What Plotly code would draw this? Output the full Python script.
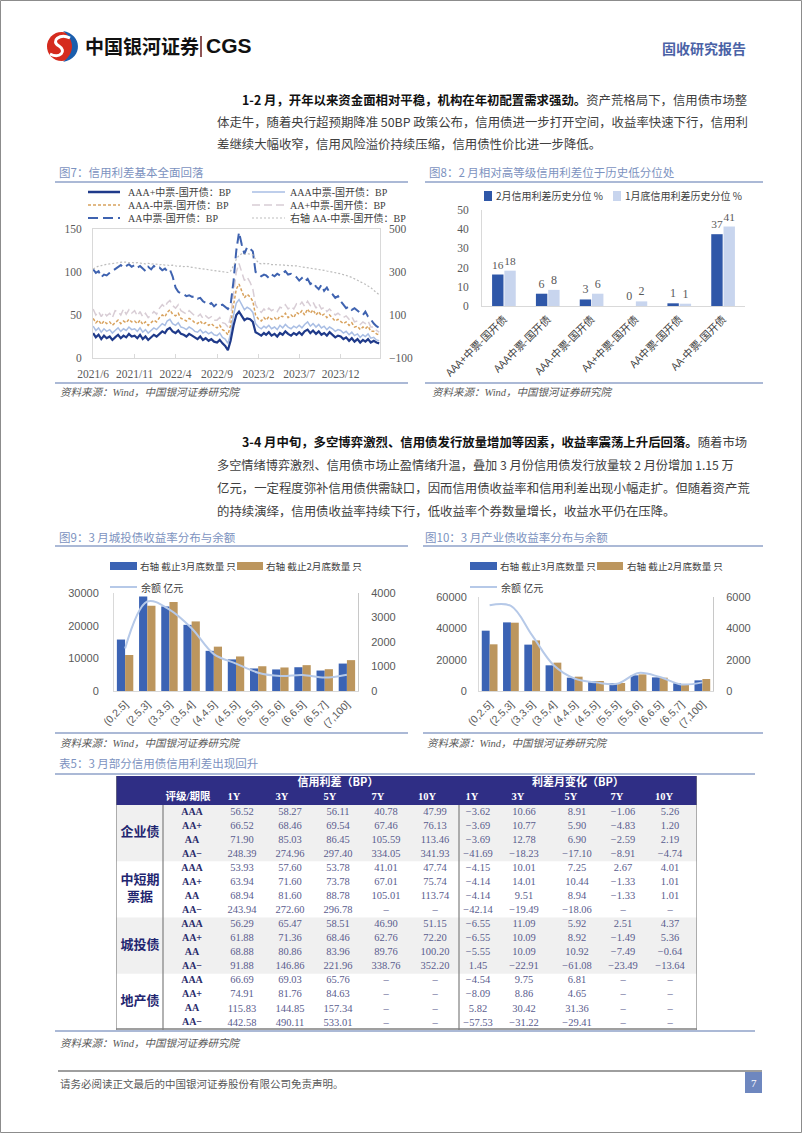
import plotly.graph_objects as go

W, H = 802, 1133


def PX(x):
    return x / W


def PY(y):
    return 1 - y / H


SERIF = "Liberation Serif, Noto Sans CJK SC, serif"
CJK = "Noto Sans CJK SC, sans-serif"
SANS = "Liberation Sans, Noto Sans CJK SC, sans-serif"

# ---------------- 图7 data (BP) ----------------
f7_tick_vals = ["2021-06-01", "2021-11-01", "2022-04-01", "2022-09-01",
                "2023-02-01", "2023-07-01", "2023-12-01"]
f7_tick_text = ["2021/6", "2021/11", "2022/4", "2022/9", "2023/2", "2023/7", "2023/12"]
f7_months = ([(2021, m) for m in range(6, 13)] + [(2022, m) for m in range(1, 13)]
             + [(2023, m) for m in range(1, 13)] + [(2024, m) for m in range(1, 5)])
f7_dates = [f"{y}-{m:02d}-{d:02d}" for (y, m) in f7_months for d in (1, 11, 21)]

f7_aaa_plus = [
    29, 24, 27, 22, 26, 23, 25, 21, 24, 27, 23, 26, 24, 28, 25, 26, 23, 27, 22, 25, 21,
    24, 27, 25, 28, 31, 29, 33, 35, 31, 29, 32, 28, 27, 25, 28, 26, 24, 22, 25, 21, 23,
    20, 22, 19, 18, 21, 17, 14, 9, 20, 38, 50, 54, 49, 44, 46,
    45, 42, 30, 28, 26, 29, 27, 30, 26, 28, 25, 29, 27, 31, 28, 26, 29, 27, 30, 27, 31,
    33, 29, 32, 28, 31, 27, 29, 26, 30, 27, 24, 26, 25, 22, 24,
    20, 23, 19, 22, 18, 21, 19, 22, 18, 20, 18, 17]
f7_aaa = [
    37, 32, 35, 30, 34, 31, 33, 29, 32, 35, 31, 34, 32, 36, 33, 34, 31, 35, 30, 33, 29,
    32, 35, 33, 37, 40, 38, 43, 45, 40, 38, 41, 36, 35, 33, 36, 34, 31, 30, 33, 29, 31,
    28, 30, 27, 26, 29, 24, 22, 17, 28, 50, 64, 68, 62, 56, 59,
    57, 53, 40, 36, 34, 37, 35, 38, 34, 36, 33, 38, 35, 39, 36, 34, 37, 35, 38, 35, 39,
    42, 37, 40, 36, 39, 35, 37, 33, 36, 34, 31, 33, 32, 29, 31,
    27, 30, 26, 28, 24, 27, 25, 28, 23, 24, 21, 20]
f7_aaa_minus = [
    46, 41, 44, 39, 43, 40, 42, 38, 41, 44, 40, 43, 41, 45, 42, 43, 40, 44, 39, 42, 38,
    41, 44, 42, 47, 50, 48, 53, 56, 51, 49, 52, 46, 45, 43, 46, 44, 41, 40, 43, 39, 41,
    38, 40, 37, 35, 38, 33, 31, 27, 38, 62, 80, 86, 78, 70, 74,
    71, 66, 50, 45, 43, 47, 44, 48, 45, 47, 44, 49, 48, 52, 47, 50, 47, 53, 51, 55, 50,
    57, 52, 56, 50, 54, 49, 51, 47, 50, 46, 43, 45, 43, 40, 42,
    38, 41, 36, 37, 33, 36, 34, 37, 31, 31, 28, 27]
f7_aa_plus = [
    57, 50, 54, 48, 53, 49, 52, 47, 55, 54, 50, 57, 51, 56, 52, 55, 49, 54, 48, 52, 47,
    50, 54, 51, 58, 62, 59, 64, 67, 61, 58, 62, 55, 53, 51, 55, 52, 49, 48, 51, 46, 49,
    46, 48, 44, 44, 47, 41, 40, 36, 48, 78, 100, 110, 100, 90, 94,
    88, 80, 62, 56, 53, 57, 54, 58, 55, 57, 54, 59, 58, 62, 57, 60, 57, 63, 61, 65, 60,
    66, 61, 65, 58, 63, 57, 59, 54, 57, 53, 50, 52, 50, 47, 49,
    45, 48, 42, 43, 39, 42, 40, 43, 36, 36, 32, 30]
f7_aa = [
    103, 99, 101, 94, 97, 96, 99, 101, 104, 106, 108, 105, 107, 109, 106, 108, 105, 107, 104, 101, 106,
    103, 107, 104, 105, 102, 104, 101, 103, 95, 82, 77, 75, 74, 72, 73, 71, 72, 69, 70, 66, 64,
    62, 64, 60, 63, 61, 62, 60, 57, 62, 90, 125, 146, 132, 121, 129,
    127, 124, 100, 98, 95, 97, 96, 93, 97, 95, 98, 96, 99, 101, 97, 98, 96, 94, 90, 93, 89,
    92, 86, 88, 83, 80, 85, 78, 82, 76, 74, 70, 72, 66, 62, 58,
    60, 56, 58, 55, 52, 50, 54, 48, 45, 40, 37, 35]
f7_aa_minus_right = [
    315, 322, 328, 330, 334, 336, 338, 340, 342, 345, 344, 347, 346, 343, 345, 342, 344, 341, 340, 338, 341,
    337, 339, 336, 334, 336, 332, 333, 330, 332, 328, 326, 329, 325, 327, 323, 322, 320, 318, 316, 314, 312,
    310, 308, 305, 303, 301, 302, 300, 298, 305, 330, 360, 378, 385, 382, 386,
    383, 380, 360, 342, 338, 340, 337, 339, 335, 336, 334, 333, 334, 331, 332, 330, 328, 329, 326, 324, 325,
    322, 320, 318, 316, 314, 312, 308, 305, 303, 300, 297, 295, 292, 288, 285,
    280, 275, 270, 262, 255, 250, 243, 235, 228, 215, 205, 195]
f7_names = ["AAA+中票-国开债：BP", "AAA中票-国开债：BP", "AAA-中票-国开债：BP",
            "AA+中票-国开债：BP", "AA中票-国开债：BP", "右轴 AA-中票-国开债：BP"]

# ---------------- 图8 data (%) ----------------
f8_cats = ["AAA+中票-国开债", "AAA中票-国开债", "AAA-中票-国开债",
           "AA+中票-国开债", "AA中票-国开债", "AA-中票-国开债"]
f8_feb = [16.4, 6.4, 3.4, 0.0, 1.4, 37.4]
f8_jan = [18.4, 8.4, 6.4, 2.4, 1.2, 41.4]
f8_names = ["2月信用利差历史分位 %", "1月底信用利差历史分位 %"]

# ---------------- 图9 / 图10 data ----------------
yield_cats = ["(0,2.5]", "(2.5,3]", "(3,3.5]", "(3.5,4]", "(4,4.5]", "(4.5,5]",
              "(5,5.5]", "(5.5,6]", "(6,6.5]", "(6.5,7]", "(7,100]"]
f9_mar_count = [2100, 3860, 3450, 2700, 1640, 1290, 920, 880, 970, 835, 1120]
f9_feb_count = [1470, 3480, 3630, 2840, 1810, 1410, 1010, 960, 1055, 890, 1260]
f9_balance = [13000, 27400, 24900, 19200, 11300, 8400, 5600, 4600, 4900, 4100, 5000]
f10_mar_count = [3850, 4380, 2960, 1640, 850, 620, 510, 1000, 870, 490, 680]
f10_feb_count = [2980, 4360, 3230, 1810, 915, 640, 510, 1060, 850, 450, 765]
f10_balance = [54700, 54300, 35500, 16600, 7900, 5500, 4600, 11500, 8900, 4200, 5500]
bar_names = ["右轴 截止3月底数量 只", "右轴 截止2月底数量 只", "余额 亿元"]

# ---------------- 表5 data ----------------
tbl_groups = ["企业债", "中短期<br>票据", "城投债", "地产债"]
tbl_ratings = ["AAA", "AA+", "AA", "AA−"]
tbl_terms = ["1Y", "3Y", "5Y", "7Y", "10Y"]
ent_spread = [[56.52, 58.27, 56.11, 40.78, 47.99], [66.52, 68.46, 69.54, 67.46, 76.13],
              [71.90, 85.03, 86.45, 105.59, 113.46], [248.39, 274.96, 297.40, 334.05, 341.93]]
mtn_spread = [[53.93, 57.60, 53.78, 41.01, 47.74], [63.94, 71.60, 73.78, 67.01, 75.74],
              [68.94, 81.60, 88.78, 105.01, 113.74], [243.94, 272.60, 296.78, None, None]]
cty_spread = [[56.29, 65.47, 58.51, 46.90, 51.15], [61.88, 71.36, 68.46, 62.76, 72.20],
              [68.88, 80.86, 83.96, 89.76, 100.20], [91.88, 146.86, 221.96, 338.76, 352.20]]
re_spread = [[66.69, 69.03, 65.76, None, None], [74.91, 81.76, 84.63, None, None],
             [115.83, 144.85, 157.34, None, None], [442.58, 490.11, 533.01, None, None]]
ent_change = [[-3.62, 10.66, 8.91, -1.06, 5.26], [-3.69, 10.77, 5.90, -4.83, 1.20],
              [-3.69, 12.78, 6.90, -2.59, 2.19], [-41.69, -18.23, -17.10, -8.91, -4.74]]
mtn_change = [[-4.15, 10.01, 7.25, 2.67, 4.01], [-4.14, 14.01, 10.44, -1.33, 1.01],
              [-4.14, 9.51, 8.94, -1.33, 1.01], [-42.14, -19.49, -18.06, None, None]]
cty_change = [[-6.55, 11.09, 5.92, 2.51, 4.37], [-6.55, 10.09, 8.92, -1.49, 5.36],
              [-5.55, 10.09, 10.92, -7.49, -0.64], [1.45, -22.91, -61.08, -23.49, -13.64]]
re_change = [[-4.54, 9.75, 6.81, None, None], [-8.09, 8.86, 4.65, None, None],
             [5.82, 30.42, 31.36, None, None], [-57.53, -31.22, -29.41, None, None]]

# ---------------- colours ----------------
C_NAVY, C_LBLUE, C_ORANGE, C_PINK, C_AA, C_GRAY = "#1F3A8A", "#A9BEE4", "#D8A25E", "#D8CDD5", "#3F63B0", "#BDBDBD"
C_DARKBAR, C_LIGHTBAR = "#2F57A8", "#C8D5EE"
C_BLUEBAR, C_TANBAR, C_BALLINE = "#3B63B4", "#BC965E", "#B6C9E8"
C_CAPTION, C_RULE = "#7C92C0", "#8FA2C9"
AX_LINE = "#D9D9D9"
TICK_COL = "#595959"

fig = go.Figure()

# ---------------- 图7 traces ----------------
f7_specs = [
    (f7_aa_plus, 3, dict(color=C_PINK, width=1.5, dash="8px,4px"), "y"),
    (f7_aaa_minus, 2, dict(color=C_ORANGE, width=1.5, dash="3px,2px"), "y"),
    (f7_aaa, 1, dict(color=C_LBLUE, width=1.5), "y"),
    (f7_aa, 4, dict(color=C_AA, width=2, dash="10px,5px"), "y"),
    (f7_aaa_plus, 0, dict(color=C_NAVY, width=2.2), "y"),
    (f7_aa_minus_right, 5, dict(color=C_GRAY, width=1.2, dash="2px,2px"), "y2"),
]
for vals, ni, ln, ya in f7_specs:
    fig.add_trace(go.Scatter(x=f7_dates, y=vals, mode="lines", name=f7_names[ni], line=ln,
                             xaxis="x", yaxis=ya, showlegend=False))

# ---------------- 图8 traces ----------------
fig.add_trace(go.Bar(x=f8_cats, y=f8_feb, name=f8_names[0], marker_color=C_DARKBAR, width=0.26, offset=-0.27,
                     texttemplate="%{y:.0f}", textposition="outside", cliponaxis=False,
                     textfont=dict(family=SERIF, size=12, color=TICK_COL),
                     xaxis="x2", yaxis="y3", showlegend=False))
fig.add_trace(go.Bar(x=f8_cats, y=f8_jan, name=f8_names[1], marker_color=C_LIGHTBAR, width=0.26, offset=0.01,
                     texttemplate="%{y:.0f}", textposition="outside", cliponaxis=False,
                     textfont=dict(family=SERIF, size=12, color=TICK_COL),
                     xaxis="x2", yaxis="y3", showlegend=False))

# ---------------- 图9 / 图10 traces ----------------
for (mar, feb, bal, xa, yb, yl) in [(f9_mar_count, f9_feb_count, f9_balance, "x3", "y4", "y5"),
                                    (f10_mar_count, f10_feb_count, f10_balance, "x4", "y6", "y7")]:
    fig.add_trace(go.Bar(x=yield_cats, y=mar, name=bar_names[0], marker_color=C_BLUEBAR, width=0.37, offset=-0.37,
                         xaxis=xa, yaxis=yb, showlegend=False))
    fig.add_trace(go.Bar(x=yield_cats, y=feb, name=bar_names[1], marker_color=C_TANBAR, width=0.37, offset=0.0,
                         xaxis=xa, yaxis=yb, showlegend=False))
    fig.add_trace(go.Scatter(x=yield_cats, y=bal, name=bar_names[2], mode="lines",
                             line=dict(color=C_BALLINE, width=2, shape="spline", smoothing=1),
                             xaxis=xa, yaxis=yl, showlegend=False))

# ---------------- 表5 (text cells on a hidden pixel-scaled axis) ----------------
TBL_L, TBL_R, TBL_T, TBL_HDR_B, TBL_B = 116, 697, 776, 805, 1030
ROW_H = (TBL_B - TBL_HDR_B) / 16
GROUP_X, RATING_X = 140, 192
SPREAD_X = [242, 290, 338, 386, 435]
CHANGE_X = [478, 524, 577, 623, 670]
SPLIT_X = [163, 459]


def fmt(v):
    if v is None:
        return "–"
    return f"−{abs(v):.2f}" if v < 0 else f"{v:.2f}"


all_spread = ent_spread + mtn_spread + cty_spread + re_spread
all_change = ent_change + mtn_change + cty_change + re_change
nx, ny, nt = [], [], []
rx, ry, rt = [], [], []
for i in range(16):
    yc = TBL_HDR_B + (i + 0.5) * ROW_H
    rx.append(RATING_X)
    ry.append(yc)
    rt.append("<b>" + tbl_ratings[i % 4] + "</b>")
    for j in range(5):
        nx += [SPREAD_X[j], CHANGE_X[j]]
        ny += [yc, yc]
        nt += [fmt(all_spread[i][j]), fmt(all_change[i][j])]
fig.add_trace(go.Scatter(x=nx, y=ny, text=nt, mode="text", textposition="middle center",
                         textfont=dict(family=SERIF, size=10.5, color="#5A5C8E"),
                         xaxis="x5", yaxis="y8", showlegend=False, cliponaxis=False, hoverinfo="skip"))
fig.add_trace(go.Scatter(x=rx, y=ry, text=rt, mode="text", textposition="middle center",
                         textfont=dict(family=SERIF, size=10, color="#2A2C6B"),
                         xaxis="x5", yaxis="y8", showlegend=False, cliponaxis=False, hoverinfo="skip"))
gx = [GROUP_X] * 4
gy = [TBL_HDR_B + (4 * g + 2) * ROW_H for g in range(4)]
fig.add_trace(go.Scatter(x=gx, y=gy, text=["<b>" + g + "</b>" for g in tbl_groups], mode="text",
                         textposition="middle center", textfont=dict(family=CJK, size=13, color="#1F2670"),
                         xaxis="x5", yaxis="y8", showlegend=False, cliponaxis=False, hoverinfo="skip"))
hx = [188] + [x - 8 for x in SPREAD_X] + [x - 6 for x in CHANGE_X]
hy = [797] * 11
ht = ["<b>评级/期限</b>"] + ["<b>" + t + "</b>" for t in tbl_terms] * 2
fig.add_trace(go.Scatter(x=hx, y=hy, text=ht, mode="text", textposition="middle center",
                         textfont=dict(family=SERIF, size=10.5, color="white"),
                         xaxis="x5", yaxis="y8", showlegend=False, cliponaxis=False, hoverinfo="skip"))
fig.add_trace(go.Scatter(x=[338, 578], y=[783, 783], text=["<b>信用利差（BP）</b>", "<b>利差月变化（BP）</b>"],
                         mode="text", textposition="middle center",
                         textfont=dict(family=CJK, size=11, color="white"),
                         xaxis="x5", yaxis="y8", showlegend=False, cliponaxis=False, hoverinfo="skip"))

# ---------------- shapes & annotations ----------------
shapes = []
anns = []


def L(x0, y0, x1, y1, color, width, dash="solid", ref=None):
    if ref:
        shapes.append(dict(type="line", xref=ref[0], yref=ref[1], x0=x0, y0=y0, x1=x1, y1=y1,
                           line=dict(color=color, width=width, dash=dash)))
    else:
        shapes.append(dict(type="line", xref="paper", yref="paper", x0=PX(x0), y0=PY(y0), x1=PX(x1), y1=PY(y1),
                           line=dict(color=color, width=width, dash=dash)))


def R(x0, y0, x1, y1, fill, ref=None, layer="above", line_color=None):
    d = dict(type="rect", fillcolor=fill, layer=layer, line=dict(width=1 if line_color else 0, color=line_color or fill))
    if ref:
        d.update(xref=ref[0], yref=ref[1], x0=x0, y0=y0, x1=x1, y1=y1)
    else:
        d.update(xref="paper", yref="paper", x0=PX(x0), y0=PY(y0), x1=PX(x1), y1=PY(y1))
    shapes.append(d)


def T(x, y, text, size, color="#404040", family=CJK, xanchor="left", yanchor="middle"):
    anns.append(dict(x=PX(x), y=PY(y), xref="paper", yref="paper", text=text, showarrow=False,
                     xanchor=xanchor, yanchor=yanchor, font=dict(size=size, color=color, family=family)))


# page frame
R(0.5, 0.5, 801.5, 1132.5, "rgba(0,0,0,0)", line_color="#8C8C8C")

# logo
shapes.append(dict(type="circle", xref="paper", yref="paper", x0=PX(47), x1=PX(76), y0=PY(61), y1=PY(32),
                   fillcolor="#D52B1E", line=dict(width=0)))


def pth(pts):
    return " ".join(f"{c}{PX(x):.5f},{PY(y):.5f}" if c in "ML" else
                    f"{c}{PX(x):.5f},{PY(y):.5f} {PX(x2):.5f},{PY(y2):.5f} {PX(x3):.5f},{PY(y3):.5f}"
                    for (c, x, y, x2, y2, x3, y3) in pts) + " Z"


shapes.append(dict(type="path", xref="paper", yref="paper", fillcolor="#1B5EAD", line=dict(width=0),
                   path=pth([("M", 63, 31, 0, 0, 0, 0), ("C", 82, 34, 84, 58, 63, 62),
                             ("C", 75, 53, 75, 40, 63, 31)])))
shapes.append(dict(type="path", xref="paper", yref="paper", line=dict(color="white", width=3),
                   path=f"M{PX(70):.5f},{PY(38):.5f} C{PX(60):.5f},{PY(33):.5f} {PX(50):.5f},{PY(41):.5f} {PX(59):.5f},{PY(46):.5f} "
                        f"C{PX(67):.5f},{PY(51):.5f} {PX(60):.5f},{PY(59):.5f} {PX(50):.5f},{PY(54):.5f}"))
T(83, 46, "<b>中国银河证券</b>", 19, "#111111", CJK)
L(201, 36, 201, 57, "#6B1C1C", 1.5)
T(204, 46, "<b>CGS</b>", 21, "#111111", "Liberation Sans, sans-serif")
T(748, 48, "<b>固收研究报告</b>", 14, "#4A62A6", CJK, xanchor="right")

# body text
BODY, BOLDC = "#404040", "#111111"
T(240, 100, f"<span style='color:{BOLDC}'><b>1-2 月，开年以来资金面相对平稳，机构在年初配置需求强劲。</b></span>资产荒格局下，信用债市场整", 12.4, BODY)
T(215, 122, "体走牛，随着央行超预期降准 50BP 政策公布，信用债进一步打开空间，收益率快速下行，信用利", 12.4, BODY)
T(215, 144, "差继续大幅收窄，信用风险溢价持续压缩，信用债性价比进一步降低。", 12.4, BODY)
T(240, 442, f"<span style='color:{BOLDC}'><b>3-4 月中旬，多空博弈激烈、信用债发行放量增加等因素，收益率震荡上升后回落。</b></span>随着市场", 12.4, BODY)
T(215, 465, "多空情绪博弈激烈、信用债市场止盈情绪升温，叠加 3 月份信用债发行放量较 2 月份增加 1.15 万", 12.2, BODY)
T(215, 488, "亿元，一定程度弥补信用债供需缺口，因而信用债收益率和信用利差出现小幅走扩。但随着资产荒", 12.4, BODY)
T(215, 511, "的持续演绎，信用债收益率持续下行，低收益率个券数量增长，收益水平仍在压降。", 12.4, BODY)

# captions, rules, sources
T(57, 172, "图7：信用利差基本全面回落", 11.5, C_CAPTION)
T(427, 172, "图8：2 月相对高等级信用利差位于历史低分位处", 11.5, C_CAPTION)
T(57, 537, "图9：3 月城投债收益率分布与余额", 11.5, C_CAPTION)
T(423, 537, "图10：3 月产业债收益率分布与余额", 11.5, C_CAPTION)
T(57, 763, "表5：3 月部分信用债信用利差出现回升", 11.5, C_CAPTION)
for (x0, x1, y) in [(55, 408, 182), (425, 763, 182), (55, 408, 383), (425, 763, 383),
                    (55, 408, 546), (423, 763, 546), (55, 408, 733), (423, 763, 733),
                    (55, 755, 774), (55, 755, 1031)]:
    L(x0, y, x1, y, C_RULE, 1.5)
SRC = "<i>资料来源：Wind，中国银河证券研究院</i>"
for (x, y) in [(58, 392), (430, 392), (58, 743), (425, 743), (58, 1043)]:
    T(x, y, SRC, 10.5, "#595959", SERIF)

# 图7 legend
leg7 = [(88, 120, 126, 192, dict(color=C_NAVY, width=2.5), 0),
        (252, 285, 288, 192, dict(color=C_LBLUE, width=1.5), 1),
        (88, 120, 126, 205, dict(color=C_ORANGE, width=1.5, dash="3px,2px"), 2),
        (252, 285, 288, 205, dict(color=C_PINK, width=1.5, dash="8px,4px"), 3),
        (88, 120, 126, 218, dict(color=C_AA, width=2, dash="10px,5px"), 4),
        (252, 285, 288, 218, dict(color=C_GRAY, width=1.2, dash="2px,2px"), 5)]
for (x0, x1, tx, y, ln, ni) in leg7:
    shapes.append(dict(type="line", xref="paper", yref="paper", x0=PX(x0), x1=PX(x1), y0=PY(y), y1=PY(y), line=ln))
    T(tx, y, f7_names[ni], 10, "#404040", SERIF)

# 图8 legend
R(484, 191, 492, 201, C_DARKBAR)
T(494, 196, f8_names[0], 10, "#404040", CJK)
R(613, 191, 621, 201, C_LIGHTBAR)
T(623, 196, f8_names[1], 10, "#404040", CJK)

# 图9 / 图10 legends
for (xs, xt1, xs2, xt2) in [(110, 138, 237, 264), (470, 498, 597, 625)]:
    R(xs, 562, xs + 27, 570, C_BLUEBAR)
    T(xt1, 566, bar_names[0], 9.6, "#404040", CJK)
    R(xs2, 562, xs2 + 26, 570, C_TANBAR)
    T(xt2, 566, bar_names[1], 9.6, "#404040", CJK)
    L(xs, 587, xs + 27, 587, C_BALLINE, 2)
    T(xt1 + 1, 587, bar_names[2], 10, "#404040", CJK)

# table background / borders (on table axis)
TR = ("x5", "y8")
R(TBL_L, TBL_T, TBL_R, TBL_HDR_B, "#2F2E85", ref=TR, layer="below")
for g in (0, 2):
    R(TBL_L, TBL_HDR_B + 4 * g * ROW_H, TBL_R, TBL_HDR_B + 4 * (g + 1) * ROW_H, "#F0F0F0", ref=TR, layer="below")
L(TBL_L, TBL_T, TBL_L, TBL_B, "#7F7F7F", 1.2, ref=TR)
L(TBL_R, TBL_T, TBL_R, TBL_B, "#7F7F7F", 1.2, ref=TR)
for sx in SPLIT_X:
    L(sx, TBL_HDR_B, sx, TBL_B, "#7F7F7F", 1.2, ref=TR)
L(TBL_L, TBL_B - 1, TBL_R, TBL_B - 1, "#7F7F7F", 1.5, ref=TR)

# footer
L(58, 1071, 762, 1071, "#3F3F3F", 1.2)
T(58, 1083, "请务必阅读正文最后的中国银河证券股份有限公司免责声明。", 10.5, "#595959", CJK)
R(745, 1072, 762, 1093, "#6E87BF")
T(753.5, 1082.5, "7", 11, "white", SERIF, xanchor="center")

# ---------------- axes ----------------
tickf_serif = dict(family=SERIF, size=11.5, color=TICK_COL)
tickf_sans = dict(family=SANS, size=11, color=TICK_COL)
noax = dict(visible=False, showgrid=False, zeroline=False, fixedrange=True, automargin=False)
base = dict(automargin=False, showgrid=False, zeroline=False)

layout = dict(
    template="none",
    width=W, height=H, autosize=False, margin=dict(l=0, r=0, t=0, b=0, pad=0, autoexpand=False),
    paper_bgcolor="white", plot_bgcolor="rgba(0,0,0,0)", showlegend=False,
    shapes=shapes, annotations=anns, hovermode=False,
    # 图7
    xaxis=dict(domain=[PX(93), PX(380)], anchor="y", type="date", range=["2021-05-31 12:00", "2024-04-24"],
               tickvals=f7_tick_vals, ticktext=f7_tick_text,
               showline=True, mirror=True, linecolor=AX_LINE, ticks="inside", ticklen=4, tickcolor=AX_LINE,
               tickfont=tickf_serif, ticklabelstandoff=5, **base),
    yaxis=dict(domain=[PY(358), PY(229)], anchor="x", range=[0, 150], dtick=50, ticks="",
               showline=True, mirror=True, linecolor=AX_LINE, tickfont=tickf_serif, ticklabelstandoff=8, **base),
    yaxis2=dict(overlaying="y", anchor="x", side="right", range=[-100, 500.5], tick0=-100, dtick=200, ticks="",
                showline=False, tickfont=tickf_serif, ticklabelstandoff=8, **base),
    # 图8
    xaxis2=dict(domain=[PX(482), PX(745)], anchor="y3", type="category", tickangle=-45, ticks="",
                showline=True, linecolor=AX_LINE, tickfont=dict(family=CJK, size=10.5, color="#404040"),
                ticklabelstandoff=2, **base),
    yaxis3=dict(domain=[PY(306), PY(210)], anchor="x2", range=[0, 50], dtick=10, ticks="",
                showline=True, linecolor=AX_LINE, tickfont=tickf_serif, ticklabelstandoff=10, **base),
    # 图9
    xaxis3=dict(domain=[PX(114), PX(358)], anchor="y4", type="category", tickangle=-45, ticks="",
                showline=True, linecolor=AX_LINE, tickfont=dict(family=SANS, size=10.5, color=TICK_COL),
                ticklabelstandoff=2, **base),
    yaxis4=dict(domain=[PY(691), PY(593)], anchor="x3", side="right", range=[0, 4000], dtick=1000, ticks="",
                tickformat="d", showline=True, linecolor="#C8C8C8", tickfont=tickf_sans,
                ticklabelstandoff=10, **base),
    yaxis5=dict(overlaying="y4", anchor="x3", side="left", range=[0, 30000], dtick=10000, ticks="",
                tickformat="d", showline=True, linecolor=AX_LINE, tickfont=tickf_sans, ticklabelstandoff=12, **base),
    # 图10
    xaxis4=dict(domain=[PX(479), PX(713)], anchor="y6", type="category", tickangle=-45, ticks="",
                showline=True, linecolor=AX_LINE, tickfont=dict(family=SANS, size=10.5, color=TICK_COL),
                ticklabelstandoff=2, **base),
    yaxis6=dict(domain=[PY(691), PY(597)], anchor="x4", side="right", range=[0, 6000], dtick=2000, ticks="",
                tickformat="d", showline=True, linecolor="#C8C8C8", tickfont=tickf_sans,
                ticklabelstandoff=10, **base),
    yaxis7=dict(overlaying="y6", anchor="x4", side="left", range=[0, 60000], dtick=20000, ticks="",
                tickformat="d", showline=True, linecolor=AX_LINE, tickfont=tickf_sans, ticklabelstandoff=9, **base),
    # 表5
    xaxis5=dict(domain=[PX(TBL_L), PX(TBL_R)], anchor="y8", range=[TBL_L, TBL_R], **noax),
    yaxis8=dict(domain=[PY(TBL_B), PY(TBL_T)], anchor="x5", range=[TBL_B, TBL_T], **noax),
)
fig.update_layout(**layout)

fig.write_html("out.html", config={"displayModeBar": False, "staticPlot": True})
